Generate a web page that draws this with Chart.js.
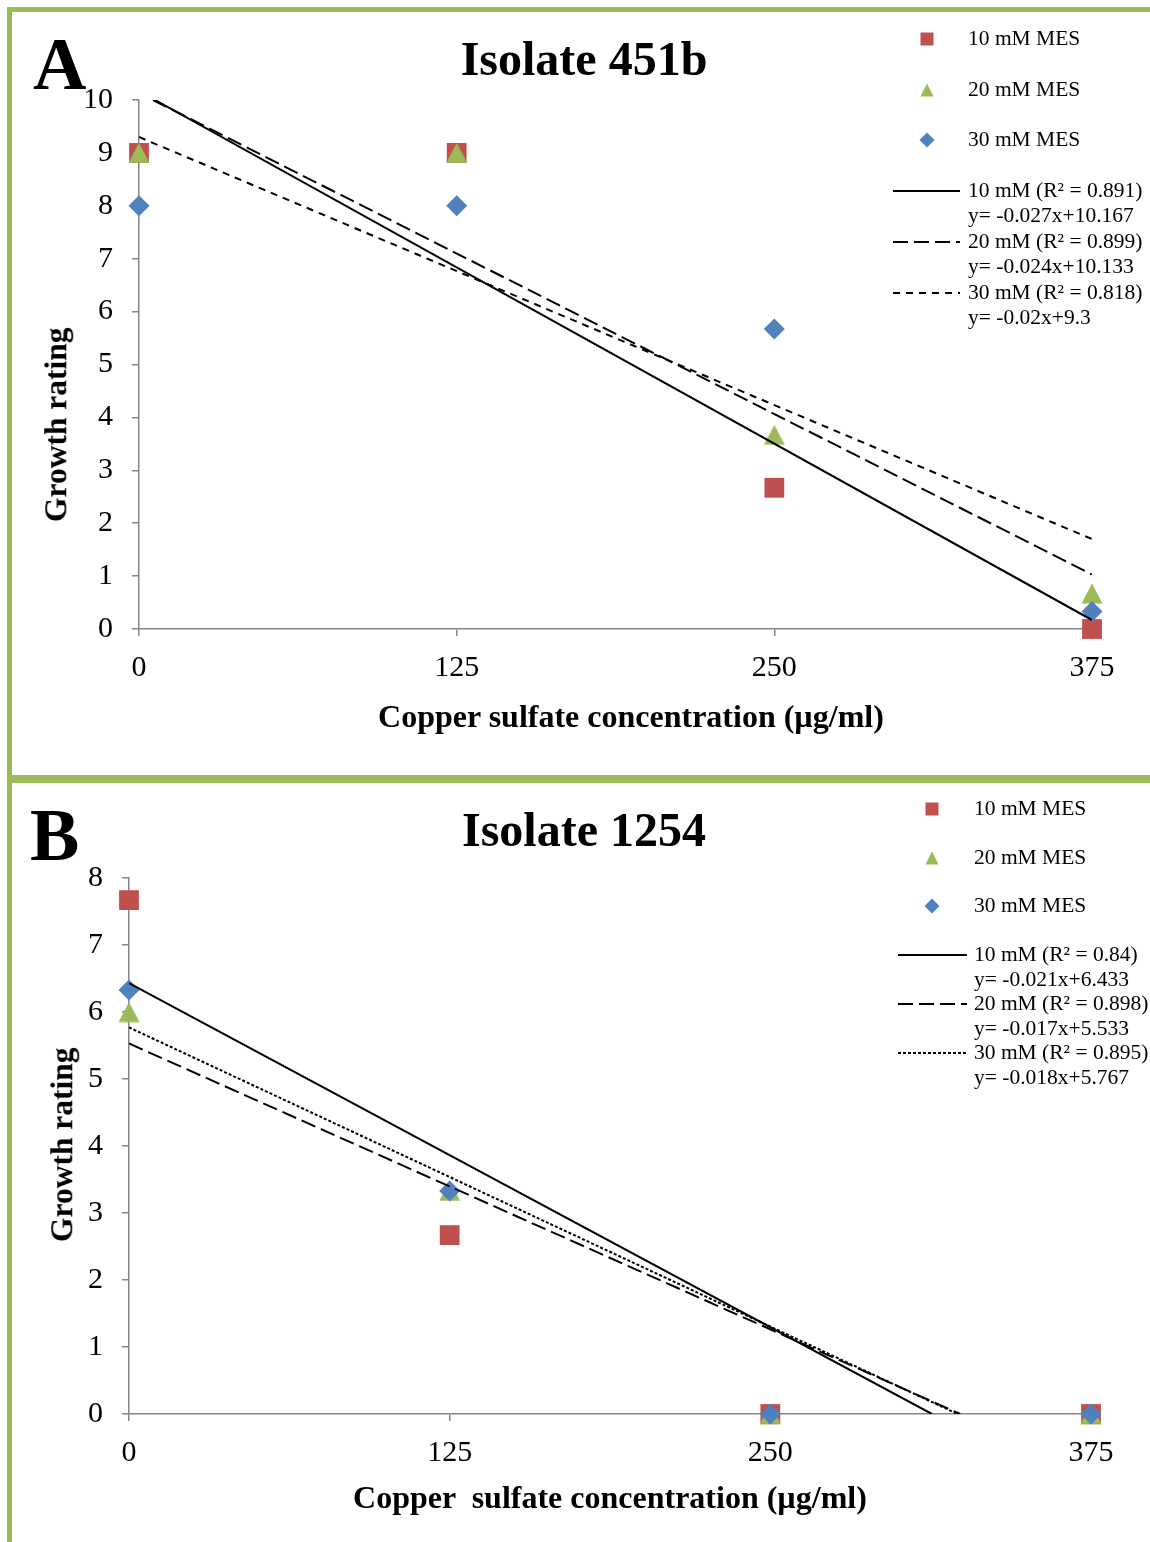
<!DOCTYPE html>
<html>
<head>
<meta charset="utf-8">
<script src="https://cdn.jsdelivr.net/npm/chart.js@4.4.0/dist/chart.umd.min.js"></script>
<style>
  html, body { margin: 0; padding: 0; background: #fff; }
  body { width: 1150px; height: 1542px; position: relative; overflow: hidden;
         font-family: 'Liberation Serif', 'Times New Roman', serif; color: #000; }
  .frame { position: absolute; background: #9bbb59; }
  canvas { position: absolute; left: 0; }
  .txt { position: absolute; white-space: pre; }
  .bold { font-weight: bold; }
  svg { position: absolute; overflow: visible; }
</style>
</head>
<body>
<div class="frame" style="left:7px;top:7px;width:1143px;height:5px"></div>
<div class="frame" style="left:7px;top:7px;width:5px;height:1535px"></div>
<div class="frame" style="left:7px;top:775px;width:1143px;height:8px"></div>
<canvas id="chartA" width="1150" height="775" style="top:0"></canvas>
<canvas id="chartB" width="1150" height="759" style="top:783px"></canvas>
<div id="overlay"></div>
<script>
// shared
const concentrations = [0, 125, 250, 375];
const xTicks = [0, 125, 250, 375];
const seriesNames = ['10 mM MES', '20 mM MES', '30 mM MES'];
const seriesColors = ['#c0504d', '#9bbb59', '#4f81bd'];
const seriesShapes = ['rect', 'triangle', 'rectRot'];

// panel A - isolate 451b
const yTicksA = [0, 1, 2, 3, 4, 5, 6, 7, 8, 9, 10];
const ratingA10 = [9, 9, 2.67, 0];
const ratingA20 = [9, 9, 3.67, 0.67];
const ratingA30 = [8, 8, 5.67, 0.33];
const trendXA = [[6.3, 375], [5.5, 375], [0, 375]];
const trendYA = [[10, 0.17], [10, 1.03], [9.3, 1.7]];
const fitLabelsA = ['10 mM (R² = 0.891)', '20 mM (R² = 0.899)', '30 mM (R² = 0.818)'];
const fitEquationsA = ['y= -0.027x+10.167', 'y= -0.024x+10.133', 'y= -0.02x+9.3'];
const dashesA = [[], [15, 6], [7, 6]];

// panel B - isolate 1254
const yTicksB = [0, 1, 2, 3, 4, 5, 6, 7, 8];
const ratingB10 = [7.67, 2.67, 0, 0];
const ratingB20 = [6, 3.33, 0, 0];
const ratingB30 = [6.33, 3.33, 0, 0];
const trendXB = [[0, 313], [0, 324], [0, 323]];
const trendYB = [[6.43, 0], [5.53, 0], [5.77, 0]];
const fitLabelsB = ['10 mM (R² = 0.84)', '20 mM (R² = 0.898)', '30 mM (R² = 0.895)'];
const fitEquationsB = ['y= -0.021x+6.433', 'y= -0.017x+5.533', 'y= -0.018x+5.767'];
const dashesB = [[], [15, 6], [3, 2]];

const AXIS_GRAY = '#868686';

// excel style triangle, centred on its box
function triangleImage(color) {
    const c = document.createElement('canvas');
    c.width = 22; c.height = 21;
    const g = c.getContext('2d');
    g.fillStyle = color;
    g.beginPath();
    g.moveTo(11, 0.5); g.lineTo(21.5, 20.5); g.lineTo(0.5, 20.5);
    g.closePath();
    g.fill();
    return c;
}

function pointStyleFor(shape, color) {
    return shape === 'triangle' ? triangleImage(color) : shape;
}
const pointRadius = { rect: 14, triangle: 11, rectRot: 10.5 };

function buildDatasets(ratings, trendX, trendY, dashes) {
    let sets = [];
    ratings.forEach((vals, i) => {
        sets.push({
            type: 'scatter',
            label: seriesNames[i],
            data: concentrations.map((c, j) => ({ x: c, y: vals[j] })),
            pointStyle: pointStyleFor(seriesShapes[i], seriesColors[i]),
            pointRadius: pointRadius[seriesShapes[i]],
            backgroundColor: seriesColors[i],
            borderColor: seriesColors[i],
            borderWidth: 0,
            clip: false,
            order: 3 - i
        });
    });
    trendX.forEach((xs, i) => {
        sets.push({
            type: 'line',
            data: xs.map((x, j) => ({ x: x, y: trendY[i][j] })),
            borderColor: '#000',
            borderWidth: 2,
            borderDash: dashes[i],
            pointRadius: 0,
            fill: false,
            order: 0
        });
    });
    return sets;
}

function makeChart(id, datasets, yTicks, area) {
    const ctx = document.getElementById(id).getContext('2d');
    return new Chart(ctx, {
        type: 'scatter',
        data: { datasets: datasets },
        options: {
            responsive: false,
            animation: false,
            devicePixelRatio: 1,
            layout: { padding: { left: 0, top: area.top, right: area.right, bottom: 0 } },
            plugins: { legend: { display: false }, tooltip: { enabled: false } },
            scales: {
                x: {
                    type: 'linear',
                    min: xTicks[0],
                    max: xTicks[xTicks.length - 1],
                    afterBuildTicks: s => { s.ticks = xTicks.map(v => ({ value: v })); },
                    afterFit: s => { s.height = area.xHeight; },
                    grid: { drawOnChartArea: false, drawTicks: true, tickLength: 7, color: AXIS_GRAY, lineWidth: 1.5 },
                    border: { display: true, color: AXIS_GRAY, width: 1.5 },
                    ticks: { color: '#000', padding: 14, font: { family: 'Liberation Serif', size: 30 } }
                },
                y: {
                    type: 'linear',
                    min: yTicks[0],
                    max: yTicks[yTicks.length - 1],
                    afterBuildTicks: s => { s.ticks = yTicks.map(v => ({ value: v })); },
                    afterFit: s => { s.width = area.yWidth; },
                    grid: { drawOnChartArea: false, drawTicks: true, tickLength: 7, color: AXIS_GRAY, lineWidth: 1.5 },
                    border: { display: true, color: AXIS_GRAY, width: 1.5 },
                    ticks: { color: '#000', padding: 19, font: { family: 'Liberation Serif', size: 30 } }
                }
            }
        }
    });
}

makeChart('chartA', buildDatasets([ratingA10, ratingA20, ratingA30], trendXA, trendYA, dashesA), yTicksA,
    { top: 100, right: 58, xHeight: 146, yWidth: 139 });
makeChart('chartB', buildDatasets([ratingB10, ratingB20, ratingB30], trendXB, trendYB, dashesB), yTicksB,
    { top: 95, right: 59, xHeight: 128, yWidth: 129 });

// ---- text + legends ----
const overlay = document.getElementById('overlay');

// cx, cy = visual centre of the capitals
function addText(text, cx, cy, size, bold, rotate, alignLeft) {
    const d = document.createElement('div');
    d.className = 'txt' + (bold ? ' bold' : '');
    d.textContent = text;
    d.style.fontSize = size + 'px';
    d.style.lineHeight = size + 'px';
    d.style.top = (cy - size / 2) + 'px';
    d.style.left = cx + 'px';
    if (rotate) {
        d.style.transform = 'translate(-50%, 0) rotate(-90deg)';
    } else if (!alignLeft) {
        d.style.transform = 'translate(-50%, 0)';
    }
    overlay.appendChild(d);
}

function markerSvg(shape, color, cx, cy, s) {
    let shapeEl;
    if (shape === 'rect') {
        shapeEl = `<rect x="${-s / 2}" y="${-s / 2}" width="${s}" height="${s}" fill="${color}"/>`;
    } else if (shape === 'triangle') {
        shapeEl = `<polygon points="0,${-s / 2} ${s / 2},${s / 2} ${-s / 2},${s / 2}" fill="${color}"/>`;
    } else {
        shapeEl = `<polygon points="0,${-s / 2 - 1} ${s / 2 + 1},0 0,${s / 2 + 1} ${-s / 2 - 1},0" fill="${color}"/>`;
    }
    overlay.insertAdjacentHTML('beforeend',
        `<svg width="1" height="1" style="left:${cx}px;top:${cy}px">${shapeEl}</svg>`);
}

function lineSvg(x1, x2, y, dash) {
    overlay.insertAdjacentHTML('beforeend',
        `<svg width="1" height="1" style="left:0;top:0"><line x1="${x1}" y1="${y}" x2="${x2}" y2="${y}" stroke="#000" stroke-width="2" stroke-dasharray="${dash.join(' ')}"/></svg>`);
}

function drawPanelText(p) {
    addText(p.letter, p.letterX, p.letterY, 74, true, false, true);
    addText(p.title, 584, p.titleY, 48, true);
    addText(p.xTitle, p.xTitleX, p.xTitleY, 32, true);
    addText('Growth rating', p.yTitleX, p.yTitleY, 31.5, true, true);
    seriesNames.forEach((name, i) => {
        markerSvg(seriesShapes[i], seriesColors[i], p.markX, p.rows[i], 13);
        addText(name, p.textX, p.rows[i], 21.5, false, false, true);
    });
    p.fitLabels.forEach((lab, i) => {
        const y1 = p.fitRows[i * 2], y2 = p.fitRows[i * 2 + 1];
        lineSvg(p.lineX1, p.lineX2, y1, p.dashes[i]);
        addText(lab, p.textX, y1, 21.5, false, false, true);
        addText(p.fitEquations[i], p.textX, y2, 21.5, false, false, true);
    });
}

drawPanelText({
    letter: 'A', letterX: 33, letterY: 64,
    title: 'Isolate 451b', titleY: 59,
    xTitle: 'Copper sulfate concentration (µg/ml)', xTitleX: 631, xTitleY: 716,
    yTitleX: 56, yTitleY: 425,
    markX: 927, textX: 968, rows: [39, 90, 140],
    fitRows: [191, 216, 242, 267, 293, 318], lineX1: 893, lineX2: 960,
    fitLabels: fitLabelsA, fitEquations: fitEquationsA, dashes: dashesA
});
drawPanelText({
    letter: 'B', letterX: 30, letterY: 835,
    title: 'Isolate 1254', titleY: 830,
    xTitle: 'Copper  sulfate concentration (µg/ml)', xTitleX: 610, xTitleY: 1497,
    yTitleX: 62, yTitleY: 1145,
    markX: 932, textX: 974, rows: [809, 858, 906],
    fitRows: [955, 980, 1004, 1029, 1053, 1078], lineX1: 898, lineX2: 967,
    fitLabels: fitLabelsB, fitEquations: fitEquationsB, dashes: dashesB
});
</script>
</body>
</html>
